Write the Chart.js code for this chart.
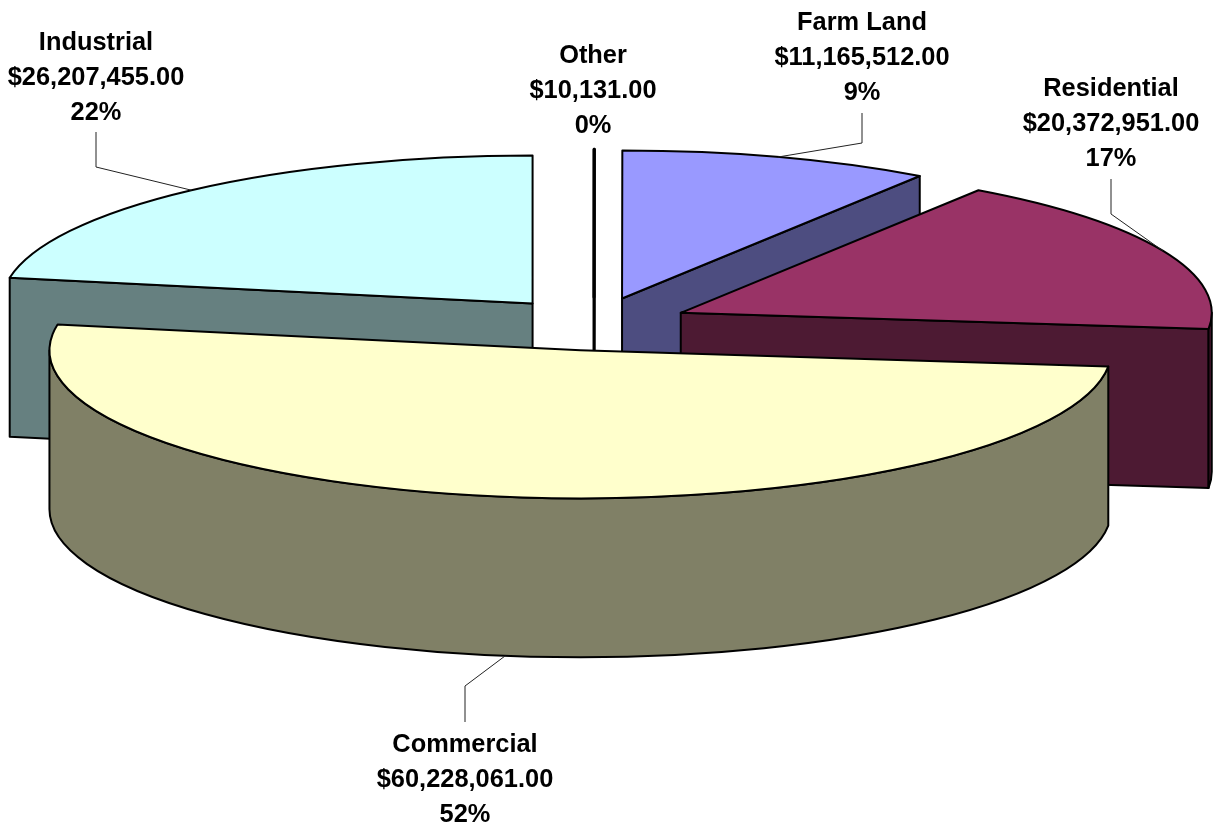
<!DOCTYPE html>
<html>
<head>
<meta charset="utf-8">
<title>Assessed value by class</title>
<script src="https://cdn.jsdelivr.net/npm/chart.js@4"></script>
<style>
    html, body { margin: 0; padding: 0; background: #ffffff; }
    #wrap { position: relative; width: 1213px; height: 827px; overflow: hidden; }
</style>
</head>
<body>
<div id="wrap"><canvas id="pie"></canvas></div>
<script>
// Data, in slice order clockwise from 12 o'clock
const categories = ['Other', 'Farm Land', 'Residential', 'Commercial', 'Industrial'];
const amounts = [10131, 11165512, 20372951, 60228061, 26207455];
const percentLabels = ['0%', '9%', '17%', '52%', '22%'];

// Styles
const topColors = ['#660066', '#9999FF', '#993366', '#FFFFCC', '#CCFFFF'];
const wallColors = ['#330033', '#4D4D80', '#4D1A33', '#808066', '#668080'];
const outlineWidths = [3, 2, 2, 2, 2];

// 3D look: the flat pie is exploded, squashed and extruded
const EXPLODE = 54;
const SQUASH_X = 1.77;
const SQUASH_Y = 0.4933;
const DEPTH = 159;

// Label placement: centre x, y of first line, leader start and elbow
const labelLayout = [
    { x: 593, y: 54.5, leader: null },
    { x: 862, y: 22, leader: [[862, 113], [862, 143]] },
    { x: 1111, y: 87.5, leader: [[1111, 179], [1111, 214]] },
    { x: 465, y: 744, leader: [[465, 722], [465, 686]] },
    { x: 96, y: 41.5, leader: [[96, 132], [96, 167]] }
];
const LINE_GAP = 35;

const formatMoney = (num) => '$' + num.toLocaleString('en-US', { minimumFractionDigits: 2, maximumFractionDigits: 2 });

// Where the slice's own centre ends up on screen
const sliceCentre = (arc) => {
    const mid = (arc.startAngle + arc.endAngle) / 2;
    return {
        x: arc.x + Math.cos(mid) * EXPLODE * SQUASH_X,
        y: arc.y + Math.sin(mid) * EXPLODE * SQUASH_Y
    };
};

const rimPoint = (arc, angle) => {
    const c = sliceCentre(arc);
    return {
        x: c.x + Math.cos(angle) * arc.outerRadius * SQUASH_X,
        y: c.y + Math.sin(angle) * arc.outerRadius * SQUASH_Y
    };
};

const strokeOutline = (ctx, width) => {
    ctx.lineWidth = width;
    ctx.strokeStyle = '#000000';
    ctx.lineJoin = 'round';
    ctx.stroke();
};

const drawRadialWall = (ctx, arc, angle, fill, width) => {
    const c = sliceCentre(arc);
    const p = rimPoint(arc, angle);
    ctx.beginPath();
    ctx.moveTo(c.x, c.y);
    ctx.lineTo(p.x, p.y);
    ctx.lineTo(p.x, p.y + DEPTH);
    ctx.lineTo(c.x, c.y + DEPTH);
    ctx.closePath();
    ctx.fillStyle = fill;
    ctx.fill();
    strokeOutline(ctx, width);
};

const drawWalls = (ctx, arc, fill, width) => {
    const c = sliceCentre(arc);
    // Only faces turned towards the viewer
    if (Math.cos(arc.startAngle) < 0) drawRadialWall(ctx, arc, arc.startAngle, fill, width);
    if (Math.cos(arc.endAngle) > 0) drawRadialWall(ctx, arc, arc.endAngle, fill, width);

    const from = Math.max(arc.startAngle, 0);
    const to = Math.min(arc.endAngle, Math.PI);
    if (to > from) {
        const rx = arc.outerRadius * SQUASH_X;
        const ry = arc.outerRadius * SQUASH_Y;
        ctx.beginPath();
        ctx.ellipse(c.x, c.y, rx, ry, 0, from, to);
        ctx.ellipse(c.x, c.y + DEPTH, rx, ry, 0, to, from, true);
        ctx.closePath();
        ctx.fillStyle = fill;
        ctx.fill();
        strokeOutline(ctx, width);
    }
};

const drawTop = (ctx, arc, width) => {
    const c = sliceCentre(arc);
    ctx.save();
    ctx.translate(c.x, c.y);
    ctx.scale(SQUASH_X, SQUASH_Y);
    ctx.translate(-arc.x, -arc.y);
    arc.draw(ctx);
    ctx.restore();

    // Outline drawn unscaled so the pen stays even
    ctx.beginPath();
    ctx.moveTo(c.x, c.y);
    ctx.ellipse(c.x, c.y, arc.outerRadius * SQUASH_X, arc.outerRadius * SQUASH_Y, 0, arc.startAngle, arc.endAngle);
    ctx.closePath();
    strokeOutline(ctx, width);
};

const pie3d = {
    id: 'pie3d',
    // Takes over the dataset drawing: walls first, back to front, then the tops
    beforeDatasetsDraw(chart) {
        const { ctx } = chart;
        const arcs = chart.getDatasetMeta(0).data;
        arcs.map((arc, i) => ({ arc, i }))
            .sort((a, b) => sliceCentre(a.arc).y - sliceCentre(b.arc).y)
            .forEach(({ arc, i }) => drawWalls(ctx, arc, wallColors[i], outlineWidths[i]));
        arcs.forEach((arc, i) => drawTop(ctx, arc, outlineWidths[i]));
        return false;
    },
    afterDraw(chart) {
        const { ctx } = chart;
        chart.getDatasetMeta(0).data.forEach((arc, i) => {
            const place = labelLayout[i];

            // Leader lines end on the slice's middle angle
            if (place.leader) {
                const mid = (arc.startAngle + arc.endAngle) / 2;
                const end = rimPoint(arc, mid);
                // The front slice's leader starts from the bottom of its wall
                if (Math.sin(mid) > 0.5) end.y += DEPTH;
                ctx.beginPath();
                ctx.moveTo(place.leader[0][0], place.leader[0][1]);
                ctx.lineTo(place.leader[1][0], place.leader[1][1]);
                ctx.lineTo(end.x, end.y);
                ctx.lineWidth = 1;
                ctx.strokeStyle = '#222222';
                ctx.stroke();
            }

            ctx.fillStyle = '#000000';
            ctx.font = 'bold 25.4px "Liberation Sans", Arial, sans-serif';
            ctx.textAlign = 'center';
            ctx.textBaseline = 'middle';
            ctx.fillText(categories[i], place.x, place.y + 1);
            ctx.fillText(formatMoney(amounts[i]), place.x, place.y + 1 + LINE_GAP);
            ctx.fillText(percentLabels[i], place.x, place.y + 1 + LINE_GAP * 2);
        });
    }
};

new Chart(document.getElementById('pie').getContext('2d'), {
    type: 'pie',
    data: {
        labels: categories,
        datasets: [{
            data: amounts,
            backgroundColor: topColors,
            borderWidth: 0
        }]
    },
    options: {
        responsive: true,
        maintainAspectRatio: false,
        animation: false,
        events: [],
        radius: 300,
        layout: { padding: { right: 25, bottom: 179 } },
        plugins: {
            legend: { display: false },
            tooltip: { enabled: false }
        }
    },
    plugins: [pie3d]
});
</script>
</body>
</html>
